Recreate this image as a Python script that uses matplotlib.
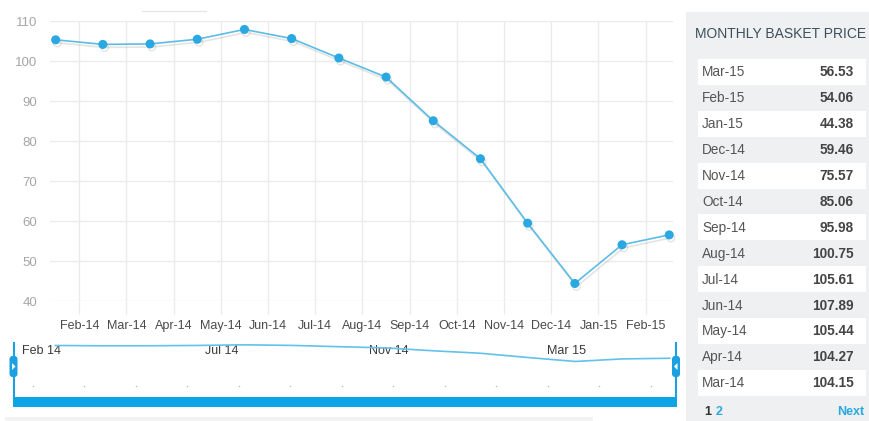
import matplotlib
matplotlib.use('Agg')
import matplotlib.pyplot as plt
import matplotlib.patheffects as pe
from matplotlib.patches import Rectangle, FancyBboxPatch, Polygon
import numpy as np

plt.rcParams['font.family'] = ['Liberation Sans', 'DejaVu Sans']

# ---- data ----
price_months = ['Feb-14', 'Mar-14', 'Apr-14', 'May-14', 'Jun-14', 'Jul-14', 'Aug-14',
                'Sep-14', 'Oct-14', 'Nov-14', 'Dec-14', 'Jan-15', 'Feb-15', 'Mar-15']
prices = [105.3, 104.15, 104.27, 105.44, 107.89, 105.61, 100.75,
          95.98, 85.06, 75.57, 59.46, 44.38, 54.06, 56.53]
tick_labels = ['Feb-14', 'Mar-14', 'Apr-14', 'May-14', 'Jun-14', 'Jul-14', 'Aug-14',
               'Sep-14', 'Oct-14', 'Nov-14', 'Dec-14', 'Jan-15', 'Feb-15']
y_ticks = [40, 50, 60, 70, 80, 90, 100, 110]
nav_labels = ['Feb 14', 'Jul 14', 'Nov 14', 'Mar 15']
table_title = 'MONTHLY BASKET PRICE'
table_rows = 13

W, H = 870, 421
fig = plt.figure(figsize=(W / 100, H / 100), dpi=100)


def box(x0, y0, x1, y1):
    return [x0 / W, 1 - y1 / H, (x1 - x0) / W, (y1 - y0) / H]


# background / decoration layer in pixel coordinates
bg = fig.add_axes([0, 0, 1, 1], zorder=0)
bg.set_xlim(0, W)
bg.set_ylim(H, 0)
bg.axis('off')

# ---- main chart ----
ax = fig.add_axes(box(50, 21, 673, 301), zorder=2)
ax.patch.set_alpha(0)
x = np.arange(len(prices)) - 0.5
ax.plot(x, prices, color='#5BBDE6', lw=1.2, marker='o', ms=5.5,
        mfc='#2AA8E2', mec='#2AA8E2', zorder=3, clip_on=False,
        path_effects=[pe.SimpleLineShadow(offset=(1.2, -2.2), shadow_color='#888', alpha=0.22),
                      pe.Normal()])
ax.set_xlim(-0.62, 12.58)
ax.set_ylim(40, 110)
ax.set_yticks(y_ticks)
ax.set_xticks(range(len(tick_labels)))
ax.set_xticklabels(tick_labels)
ax.grid(True, color='#EBEBEB', lw=1)
ax.set_axisbelow(True)
for s in ax.spines.values():
    s.set_visible(False)
ax.tick_params(axis='y', length=0, pad=9, labelsize=9.5, labelcolor='#A5A5A5')
ax.tick_params(axis='x', length=9, color='#EBEBEB', width=1, pad=5,
               labelsize=9, labelcolor='#4A4A4A')

# faint line above chart
bg.plot([142, 206], [11, 11], color='#E6E6E6', lw=1)

# ---- navigator ----
nav = fig.add_axes(box(13, 343, 680, 397), zorder=2)
nav.patch.set_alpha(0)
nav.set_xlim((13 - 79) / 47.25, (680 - 79) / 47.25)
nav.set_ylim(-91.3, 114.8)
nav.axis('off')
nav.plot(x, prices, color='#62C2EA', lw=1.2)

blue = '#1BA1E2'
bg.plot([14, 14], [343, 398], color=blue, lw=1.5)
bg.plot([676, 676], [343, 398], color=blue, lw=1.5)
bg.add_patch(Rectangle((13, 397), 664, 10, color='#0EA5E6', lw=0))
for hx, d in [(13.5, 1), (676, -1)]:
    bg.add_patch(FancyBboxPatch((hx - 4, 356), 8, 21, boxstyle='round,pad=0,rounding_size=3',
                                color=blue, lw=0, zorder=3))
    bg.add_patch(Polygon([[hx - 1.5 * d, 363], [hx - 1.5 * d, 370], [hx + 2 * d, 366.5]],
                         color='white', lw=0, zorder=4))
bg.scatter(np.linspace(33, 651, 13), [386] * 13, s=1.2, color='#BBBBBB', lw=0)
for lab, lx in zip(nav_labels, [22, 205, 369, 547]):
    bg.text(lx, 351, lab, fontsize=9, color='#3A3A3A', va='center', ha='left', zorder=5)
bg.add_patch(Rectangle((5, 417), 588, 4, color='#F2F2F2', lw=0))

# ---- right table panel ----
bg.add_patch(Rectangle((686, 12), 184, 409, color='#EEF0F1', lw=0))
bg.text(695, 34, table_title, fontsize=10, color='#3D4F5C', va='center', ha='left')
rows_m = price_months[::-1][:table_rows]
rows_v = prices[::-1][:table_rows]
rh = 25.9
for i, (m, v) in enumerate(zip(rows_m, rows_v)):
    y0 = 59 + rh * i
    if i % 2 == 0:
        bg.add_patch(Rectangle((698, y0), 168, rh, color='white', lw=0))
    bg.text(702, y0 + rh / 2 + 0.5, m, fontsize=9.8, color='#555555', va='center', ha='left')
    bg.text(854, y0 + rh / 2 + 0.5, f'{v:.2f}', fontsize=9.8, color='#444444',
            va='center', ha='right', fontweight='bold')
bg.text(704, 412, '1', fontsize=9, color='#333333', fontweight='bold', va='center')
bg.text(716, 412, '2', fontsize=9, color='#2BA8E0', fontweight='bold', va='center')
bg.text(864, 412, 'Next', fontsize=9, color='#2BA8E0', fontweight='bold', va='center', ha='right')

fig.savefig('out.png', dpi=100)
